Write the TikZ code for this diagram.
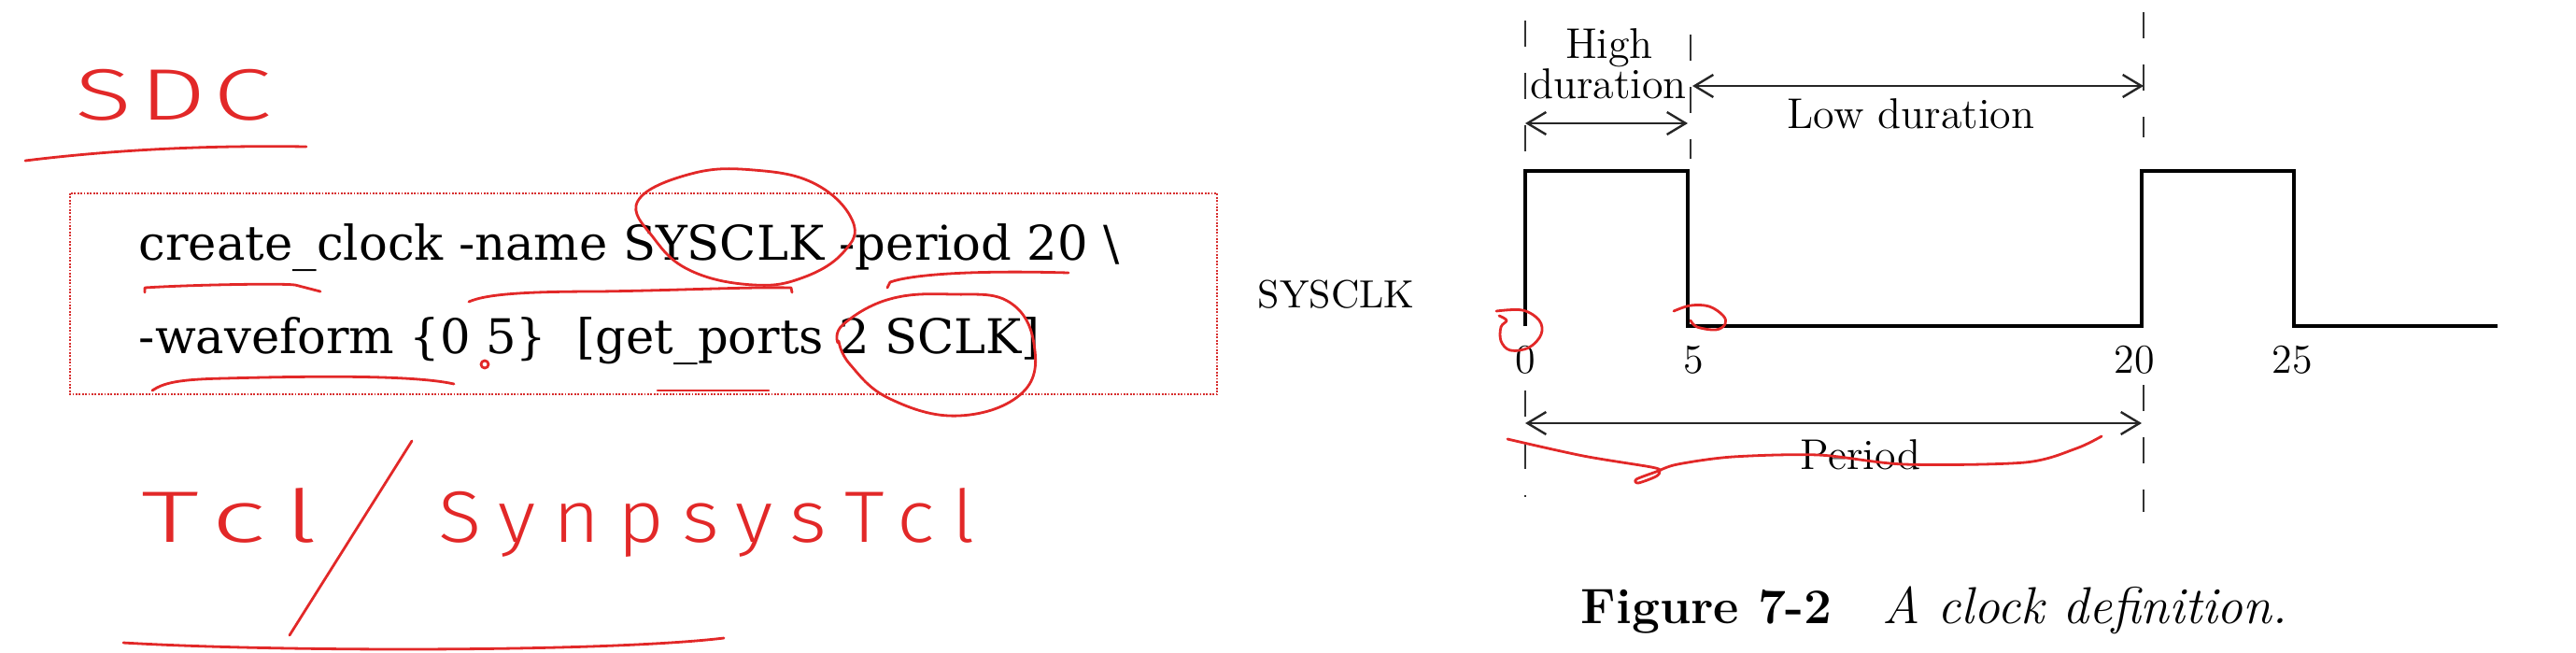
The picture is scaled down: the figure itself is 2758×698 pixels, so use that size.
\documentclass[tikz,border=0pt]{standalone}
\usepackage{fontspec}
\newfontfamily\codefont{DejaVu Serif}
\newfontfamily\handfont{Fira Sans}[UprightFont=* Light]
\usetikzlibrary{arrows.meta}
\definecolor{pen}{RGB}{226,40,40}
\definecolor{boxred}{RGB}{215,45,45}
\begin{document}
\begin{tikzpicture}[x=0.25pt,y=-0.25pt,
  code/.style={anchor=base west, inner sep=0, font=\codefont\fontsize{12.8}{15}\selectfont},
  lbl/.style={anchor=base, inner sep=0, font=\fontsize{11.5}{13}\selectfont},
  num/.style={anchor=base, inner sep=0, font=\fontsize{11}{13}\selectfont},
  hand/.style={inner sep=0, text=pen, anchor=base west},
  ink/.style={draw=pen, line width=0.7pt, line cap=round, line join=round},
  guide/.style={dash pattern=on 7pt off 7pt, line width=0.45pt, black!80},
  dim/.style={{Straight Barb[length=5pt,width=6pt]}-{Straight Barb[length=5pt,width=6pt]}, line width=0.6pt, black!85},
  wave/.style={line width=1.1pt, line join=miter},
  codebox/.style={draw=boxred, line width=0.45pt, dash pattern=on 0.45pt off 0.4pt}
]
\useasboundingbox (0,0) rectangle (2758,698);

% ---------- left: SDC code ----------
\node[hand, font=\handfont\fontsize{19.5}{21}\selectfont\addfontfeature{FakeStretch=1.45,LetterSpace=10}] (sdc) at (80,128) {SDC};
\draw[ink] (27,172) .. controls (100,163) and (200,155) .. (328,157);

\coordinate (boxNW) at (75,207);
\coordinate (boxSE) at (1303,422);
\draw[codebox] (boxNW) rectangle (boxSE);

\node[code] (line1) at (148,278) {create\_clock -name SYSCLK -period 20 \textbackslash};
\node[code] (line2) at (148,378) {-waveform \{0 5\}\ \ [get\_ports 2 SCLK]};

% red annotations on the code
\draw[ink] (155,313) -- (155,308) .. controls (200,305) and (300,303) .. (316,305) -- (343,312);
\draw[ink] (502,323) .. controls (520,315) and (560,312) .. (640,312) .. controls (720,311) and (800,307) .. (847,308) -- (848,313);
\draw[ink] (950,308) -- (953,302) .. controls (975,294) and (1040,289) .. (1144,292);
\draw[ink] (163,418) .. controls (175,410) and (190,406) .. (240,405) .. controls (350,402) and (446,402) .. (486,411);
\draw[ink] (704,418) -- (823,418);
\draw[ink] (519,390) circle[radius=4];
\draw[ink] plot[smooth cycle, tension=0.7] coordinates {(683,215) (740,186) (807,182) (873,197) (913,237) (903,270) (860,297) (807,305) (740,290) (700,255)};
\draw[ink] plot[smooth, tension=0.7] coordinates {(897,367) (903,347) (953,320) (1020,315) (1080,323) (1107,368) (1095,420) (1027,445) (953,427) (910,390) (898,365)};

% handwritten Tcl / SynpsysTcl
\node[hand, font=\handfont\fontsize{19.5}{21}\selectfont\addfontfeature{FakeStretch=1.6,LetterSpace=25}] (tcl) at (151,580) {Tcl};
\draw[ink] (441,472) -- (310,680);
\node[hand, font=\handfont\fontsize{19.5}{21}\selectfont\addfontfeature{FakeStretch=1.1,LetterSpace=24}] (syn) at (469,580) {SynpsysTcl};
\draw[ink] (132,688) .. controls (300,698) and (650,698) .. (775,683);

% ---------- right: clock waveform ----------
\coordinate (w0) at (1633,349);
\coordinate (w0h) at (1633,183);
\coordinate (w5h) at (1807,183);
\coordinate (w5) at (1807,349);
\coordinate (w20) at (2293,349);
\coordinate (w20h) at (2293,183);
\coordinate (w25h) at (2456,183);
\coordinate (w25) at (2456,349);
\coordinate (wend) at (2674,349);
\draw[wave] (w0) -- (w0h) -- (w5h) -- (w5) -- (w20) -- (w20h) -- (w25h) -- (w25) -- (wend);

% dashed guides
\draw[guide] (1633,22) -- (1633,180);
\draw[guide] (1633,418) -- (1633,532);
\draw[guide] (1810,37) -- (1810,170);
\draw[guide] (2295,13) -- (2295,147);
\draw[guide] (2295,412) -- (2295,548);

% dimension arrows
\coordinate (hA) at (1633,132);
\coordinate (hB) at (1807,132);
\coordinate (lA) at (1812,92);
\coordinate (lB) at (2295,92);
\coordinate (pA) at (1633,453);
\coordinate (pB) at (2293,453);
\draw[dim] (hA) -- (hB);
\draw[dim] (lA) -- (lB);
\draw[dim] (pA) -- (pB);

% labels
\node[lbl] (high) at (1723,62) {High};
\node[lbl] (dur) at (1722,105) {duration};
\node[lbl] (low) at (2046,137) {Low duration};
\node[lbl] (per) at (1992,502) {Period};
\node[anchor=base west, inner sep=0, font=\fontsize{10.5}{12}\selectfont] (sig) at (1346,329) {SYSCLK};
\node[num] (n0) at (1633,399) {0};
\node[num] (n5) at (1813,399) {5};
\node[num] (n20) at (2285,399) {20};
\node[num] (n25) at (2454,399) {25};

\node[anchor=base west, inner sep=0, font=\fontsize{13.3}{15}\selectfont] (cap) at (1692,667) {\textbf{Figure 7-2}\hspace{1em}{\fontsize{13.9}{15}\selectfont\textit{A clock definition.}}};

% red annotations on the waveform
\draw[ink] plot[smooth, tension=0.6] coordinates {(1605,338) (1613,343) (1607,350) (1607,365) (1617,375) (1637,372) (1650,358) (1648,343) (1630,332) (1602,333)};
\draw[ink] plot[smooth, tension=0.6] coordinates {(1792,333) (1810,327) (1830,328) (1845,338) (1847,347) (1837,353) (1817,350) (1810,343)};
\draw[ink] plot[smooth, tension=0.5] coordinates {(1614,470) (1695,488) (1768,500) (1777,504) (1773,510) (1754,517) (1752,513) (1773,505) (1796,497) (1855,489) (1947,487) (2039,497) (2168,495) (2223,480) (2250,467)};
\end{tikzpicture}
\end{document}
